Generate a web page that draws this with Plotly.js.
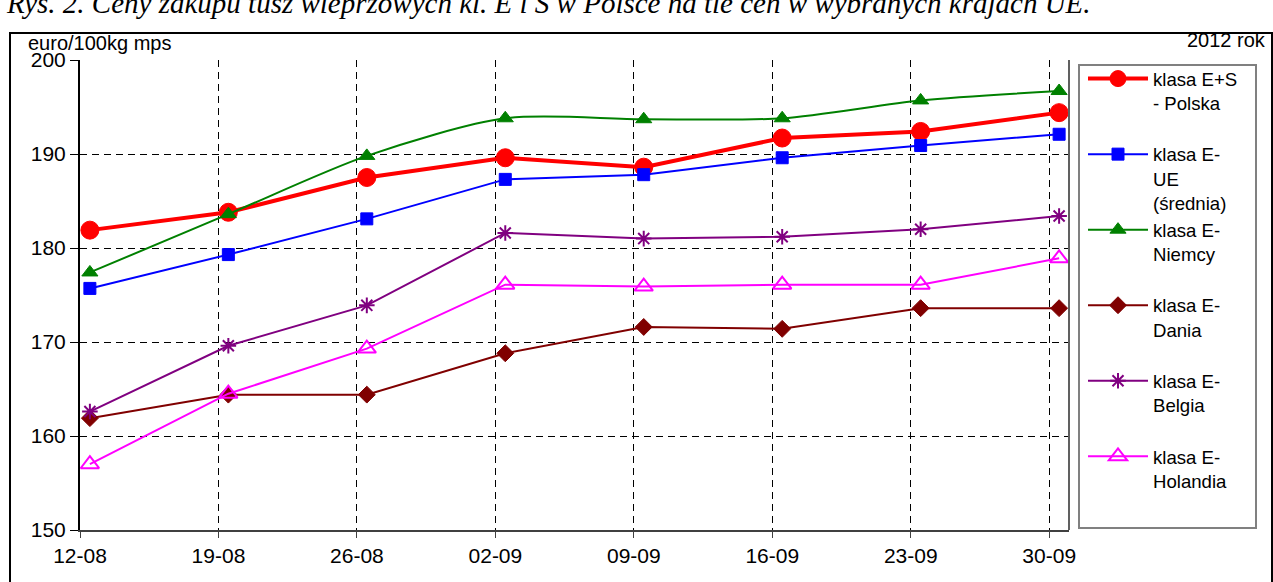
<!DOCTYPE html>
<html>
<head>
<meta charset="utf-8">
<script src="https://cdn.plot.ly/plotly-3.0.1.min.js"></script>
<style>html,body{margin:0;padding:0;background:#fff;}#chart{width:1273px;height:582px;}</style>
</head>
<body>
<div id="chart"></div>
<script>
// ---- data ----
var dates = ['2012-08-12','2012-08-19','2012-08-26','2012-09-02','2012-09-09','2012-09-16','2012-09-23','2012-09-30'];
var tickLabels = ['12-08','19-08','26-08','02-09','09-09','16-09','23-09','30-09'];
var polska   = [181.9, 183.8, 187.5, 189.6, 188.6, 191.7, 192.4, 194.4];
var ue       = [175.7, 179.3, 183.1, 187.3, 187.8, 189.6, 190.9, 192.1];
var niemcy   = [177.4, 183.6, 189.8, 193.8, 193.7, 193.8, 195.7, 196.7];
var dania    = [161.9, 164.4, 164.4, 168.8, 171.6, 171.4, 173.6, 173.6];
var belgia   = [162.6, 169.6, 173.9, 181.6, 181.0, 181.2, 182.0, 183.4];
var holandia = [157.0, 164.5, 169.3, 176.1, 175.9, 176.1, 176.1, 178.9];
var names = ['klasa E+S<br>- Polska<br> ', 'klasa E-<br>UE<br>(średnia)', 'klasa E-<br>Niemcy<br> ',
             'klasa E-<br>Dania<br> ', 'klasa E-<br>Belgia<br> ', 'klasa E-<br>Holandia<br> '];
var yTicks = [150, 160, 170, 180, 190, 200];

// ---- layout helpers ----
var W = 1273, H = 582, L = 80, R = 1069, T = 60, B = 530;
function px(x){ return (x - L) / (R - L); }
function py(y){ return (B - y) / (B - T); }
var HALF_DAY = 12*3600*1000;
function shift(d, ms){ return new Date(new Date(d + 'T00:00:00Z').getTime() + ms).toISOString().replace('T',' ').replace('Z','').slice(0,19); }
// Excel places the points half a day to the right of the week gridlines
var xvals = dates.map(function(d){ return shift(d, HALF_DAY); });
var tickvals = dates.map(function(d){ return shift(d, 0); });

var F = 'Arial, "Liberation Sans", sans-serif';

function tr(y, name, color, lw, sym, size, mlw){
  return {x: xvals, y: y, name: name, type: 'scatter', mode: 'lines+markers',
    line: {color: color, width: lw}, marker: {symbol: sym, size: size, color: color, line: {color: color, width: mlw}}};
}

var traces = [
  tr(polska, names[0], '#FF0000', 4, 'circle', 18, 1),
  tr(ue, names[1], '#0000FF', 2, 'square', 12, 1),
  tr(niemcy, names[2], '#008000', 2, 'triangle-up', 14, 1),
  tr(dania, names[3], '#800000', 2, 'diamond', 13, 1),
  tr(belgia, names[4], '#800080', 2, 'asterisk-open', 13, 2),
  tr(holandia, names[5], '#FF00FF', 2, 'triangle-up-open', 16, 2)
];
traces[2].line.shape = 'spline';
traces[2].line.smoothing = 0.8;

var layout = {
  width: W, height: H,
  margin: {l: L, r: W - R, t: T, b: H - B, pad: 0},
  paper_bgcolor: '#fff', plot_bgcolor: '#fff',
  font: {family: F, size: 20, color: '#000'},
  showlegend: true,
  legend: {x: px(1083), y: py(60), xanchor: 'left', yanchor: 'top', valign: 'top',
    font: {family: F, size: 18.6, color: '#000'}, bgcolor: 'rgba(0,0,0,0)', borderwidth: 0,
    tracegroupgap: 0, itemwidth: 60},
  xaxis: {type: 'date', range: [shift(dates[0], 0), shift(dates[dates.length-1], 2*HALF_DAY)],
    tickmode: 'array', tickvals: tickvals, ticktext: tickLabels,
    showgrid: true, gridcolor: '#000', gridwidth: 1, griddash: '7px,5px',
    showline: true, linecolor: '#404040', linewidth: 2,
    ticks: 'outside', ticklen: 6, tickcolor: '#404040', tickwidth: 1,
    tickfont: {family: F, size: 21, color: '#000'}, zeroline: false, fixedrange: true},
  yaxis: {range: [150, 200], tickmode: 'array', tickvals: yTicks,
    showgrid: true, gridcolor: '#000', gridwidth: 1, griddash: '7px,5px',
    showline: true, linecolor: '#000', linewidth: 2,
    ticks: 'outside', ticklen: 8, tickcolor: '#000', tickwidth: 1,
    tickfont: {family: F, size: 21, color: '#000'}, zeroline: false, fixedrange: true},
  shapes: [
    {type: 'line', xref: 'paper', yref: 'paper', x0: 1, x1: 1, y0: 0, y1: 1, line: {color: '#606060', width: 2}},
    {type: 'rect', xref: 'paper', yref: 'paper', x0: px(1079), x1: px(1256), y0: py(528), y1: py(65), line: {color: '#808080', width: 2}},
    {type: 'rect', xref: 'paper', yref: 'paper', x0: px(10), x1: px(1272), y0: py(620), y1: py(33), line: {color: '#000', width: 2}}
  ],
  annotations: [
    {xref: 'paper', yref: 'paper', x: px(26), y: py(43), xanchor: 'left', yanchor: 'middle', showarrow: false,
      text: 'euro/100kg mps', font: {family: F, size: 20, color: '#000'}},
    {xref: 'paper', yref: 'paper', x: px(1268), y: py(40), xanchor: 'right', yanchor: 'middle', showarrow: false,
      text: '2012 rok', font: {family: F, size: 20, color: '#000'}},
    {xref: 'paper', yref: 'paper', x: px(4), y: py(21), xanchor: 'left', yanchor: 'bottom', showarrow: false,
      text: '<i>Rys. 2. Ceny zakupu tusz wieprzowych kl. E i S w Polsce na tle cen w wybranych krajach UE.</i>',
      font: {family: '"Liberation Serif", "Times New Roman", serif', size: 29, color: '#000'}}
  ]
};

Plotly.newPlot('chart', traces, layout, {displayModeBar: false, staticPlot: true});
</script>
</body>
</html>
